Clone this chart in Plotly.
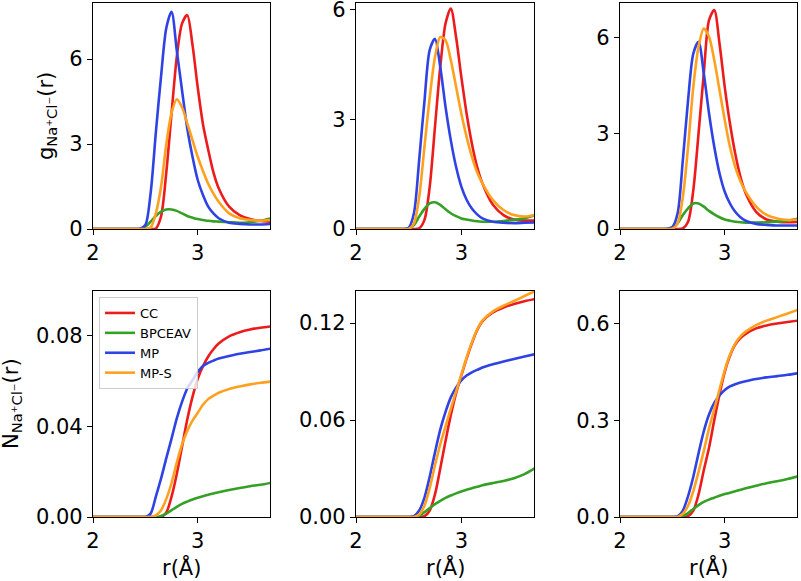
import plotly.graph_objects as go
from plotly.subplots import make_subplots

# ---------------- data ----------------
r = [2.0, 2.4, 2.45, 2.5, 2.55, 2.6, 2.65, 2.7, 2.75, 2.8, 2.85, 2.9, 2.95,
     3.0, 3.05, 3.1, 3.15, 3.2, 3.3, 3.4, 3.5, 3.6, 3.7]

series_names = ["CC", "BPCEAV", "MP", "MP-S"]
series_colors = ["#ec1c1c", "#34a024", "#2f43e4", "#ffa11f"]

# g(r), panel 1
g1_cc = [0, 0, 0, 0, 0, 0.02, 0.45, 2.0, 4.08, 6.08, 7.25, 7.55, 6.5, 5.0, 3.7, 2.8, 2.0, 1.44, 0.79, 0.49, 0.35, 0.28, 0.26]
g1_bp = [0, 0, 0.01, 0.08, 0.26, 0.46, 0.61, 0.69, 0.69, 0.64, 0.55, 0.46, 0.4, 0.35, 0.32, 0.29, 0.27, 0.26, 0.24, 0.22, 0.24, 0.29, 0.38]
g1_mp = [0, 0, 0.01, 0.14, 1.26, 3.4, 5.4, 7.1, 7.67, 6.3, 4.9, 3.55, 2.55, 1.73, 1.2, 0.79, 0.55, 0.38, 0.22, 0.18, 0.16, 0.16, 0.18]
g1_ms = [0, 0, 0, 0, 0.05, 0.55, 1.5, 3.0, 4.1, 4.58, 4.3, 3.73, 3.14, 2.55, 2.05, 1.6, 1.25, 0.96, 0.55, 0.38, 0.32, 0.29, 0.32]

# g(r), panel 2
g2_cc = [0, 0, 0, 0, 0, 0.02, 0.25, 1.16, 2.8, 4.43, 5.62, 6.03, 5.25, 4.16, 3.16, 2.34, 1.7, 1.25, 0.66, 0.38, 0.26, 0.23, 0.23]
g2_bp = [0, 0, 0, 0.02, 0.11, 0.34, 0.55, 0.70, 0.73, 0.66, 0.54, 0.43, 0.35, 0.29, 0.26, 0.23, 0.21, 0.20, 0.20, 0.22, 0.25, 0.29, 0.38]
g2_mp = [0, 0, 0, 0.03, 0.43, 1.9, 3.5, 4.9, 5.2, 4.43, 3.34, 2.43, 1.7, 1.16, 0.8, 0.56, 0.4, 0.29, 0.2, 0.17, 0.16, 0.17, 0.18]
g2_ms = [0, 0, 0, 0, 0.15, 0.88, 2.25, 3.6, 4.7, 5.25, 5.16, 4.62, 3.89, 3.16, 2.52, 1.98, 1.55, 1.25, 0.79, 0.52, 0.38, 0.34, 0.38]

# g(r), panel 3
g3_cc = [0, 0, 0, 0, 0, 0.02, 0.23, 1.22, 3.0, 4.88, 6.55, 6.87, 5.82, 4.46, 3.31, 2.37, 1.64, 1.12, 0.54, 0.3, 0.23, 0.21, 0.22]
g3_bp = [0, 0, 0.01, 0.05, 0.18, 0.44, 0.65, 0.8, 0.8, 0.7, 0.57, 0.46, 0.37, 0.3, 0.26, 0.23, 0.21, 0.2, 0.2, 0.21, 0.23, 0.26, 0.33]
g3_mp = [0, 0, 0.01, 0.06, 0.49, 2.16, 4.04, 5.5, 5.87, 4.88, 3.63, 2.58, 1.75, 1.17, 0.8, 0.54, 0.37, 0.26, 0.16, 0.13, 0.11, 0.11, 0.11]
g3_ms = [0, 0, 0, 0.01, 0.18, 1.0, 2.58, 4.46, 5.72, 6.29, 6.03, 5.3, 4.36, 3.42, 2.58, 1.95, 1.5, 1.17, 0.7, 0.44, 0.33, 0.28, 0.3]

# N(r), panel 4
n1_cc = [0, 0, 0, 0, 0, 0, 0, 0.002, 0.009, 0.019, 0.031, 0.043, 0.053, 0.061, 0.0665, 0.0708, 0.074, 0.0765, 0.0797, 0.0815, 0.0827, 0.0835, 0.0841]
n1_bp = [0, 0, 0, 0, 0, 0, 0.0005, 0.0015, 0.003, 0.0045, 0.0058, 0.0068, 0.0077, 0.0085, 0.0092, 0.0098, 0.0104, 0.0109, 0.0119, 0.0128, 0.0136, 0.0142, 0.0151]
n1_mp = [0, 0, 0, 0, 0.0015, 0.009, 0.017, 0.026, 0.0346, 0.0435, 0.0508, 0.0567, 0.0603, 0.064, 0.0666, 0.068, 0.069, 0.0699, 0.071, 0.072, 0.0728, 0.0735, 0.0743]
n1_ms = [0, 0, 0, 0, 0, 0.0007, 0.003, 0.008, 0.015, 0.024, 0.032, 0.038, 0.0425, 0.046, 0.0495, 0.052, 0.0535, 0.0548, 0.0565, 0.0576, 0.0585, 0.0592, 0.0598]

# N(r), panel 5
n2_cc = [0, 0, 0, 0, 0, 0, 0.0005, 0.004, 0.014, 0.03, 0.047, 0.063, 0.0765, 0.0875, 0.098, 0.1075, 0.1155, 0.121, 0.1265, 0.1295, 0.1318, 0.1335, 0.1348]
n2_bp = [0, 0, 0, 0, 0, 0.0008, 0.003, 0.0055, 0.008, 0.010, 0.0118, 0.0133, 0.0146, 0.0158, 0.0168, 0.0178, 0.0187, 0.0196, 0.021, 0.0223, 0.024, 0.0265, 0.0302]
n2_mp = [0, 0, 0, 0, 0.0005, 0.004, 0.012, 0.025, 0.040, 0.054, 0.065, 0.074, 0.080, 0.0845, 0.0875, 0.0895, 0.091, 0.0925, 0.0945, 0.0962, 0.0978, 0.0993, 0.1008]
n2_ms = [0, 0, 0, 0, 0, 0.0015, 0.007, 0.018, 0.032, 0.045, 0.056, 0.067, 0.0775, 0.088, 0.0985, 0.108, 0.116, 0.1215, 0.1272, 0.1307, 0.1336, 0.1367, 0.1398]

# N(r), panel 6
n3_cc = [0, 0, 0, 0, 0, 0, 0.003, 0.02, 0.07, 0.145, 0.215, 0.30, 0.38, 0.45, 0.50, 0.535, 0.555, 0.568, 0.585, 0.594, 0.600, 0.605, 0.609]
n3_bp = [0, 0, 0, 0, 0, 0.003, 0.012, 0.025, 0.037, 0.047, 0.054, 0.06, 0.066, 0.071, 0.0755, 0.08, 0.0845, 0.089, 0.097, 0.105, 0.111, 0.118, 0.126]
n3_mp = [0, 0, 0, 0, 0.002, 0.02, 0.065, 0.125, 0.198, 0.266, 0.318, 0.354, 0.377, 0.394, 0.405, 0.412, 0.417, 0.421, 0.428, 0.433, 0.437, 0.441, 0.446]
n3_ms = [0, 0, 0, 0, 0, 0.01, 0.035, 0.08, 0.14, 0.205, 0.275, 0.335, 0.395, 0.455, 0.503, 0.538, 0.56, 0.575, 0.595, 0.609, 0.62, 0.631, 0.643]

x_range = [2.0, 3.69]
x_ticks = [2, 3]
top_ranges = [[0, 7.98], [0, 6.18], [0, 7.09]]
top_ticks = [[0, 3, 6], [0, 3, 6], [0, 3, 6]]
bot_ranges = [[0, 0.0997], [0, 0.1398], [0, 0.701]]
bot_ticks = [[0, 0.04, 0.08], [0, 0.06, 0.12], [0, 0.3, 0.6]]
bot_formats = [".2f", ".2f", ".1f"]

g_label = "g<sub>Na⁺Cl⁻</sub>(r)"
n_label = "N<sub>Na⁺Cl⁻</sub>(r)"
x_label = "r(Å)"

panels = [
    [g1_cc, g1_bp, g1_mp, g1_ms],
    [g2_cc, g2_bp, g2_mp, g2_ms],
    [g3_cc, g3_bp, g3_mp, g3_ms],
    [n1_cc, n1_bp, n1_mp, n1_ms],
    [n2_cc, n2_bp, n2_mp, n2_ms],
    [n3_cc, n3_bp, n3_mp, n3_ms],
]

# ---------------- figure ----------------
W, H = 801, 581
FONT = "DejaVu Sans"
fig = make_subplots(rows=2, cols=3)

for p, data in enumerate(panels):
    row = p // 3 + 1
    col = p % 3 + 1
    for k, ys in enumerate(data):
        fig.add_trace(
            go.Scatter(
                x=r, y=ys, mode="lines",
                name=series_names[k],
                legendgroup=series_names[k],
                showlegend=(p == 3),
                line=dict(color=series_colors[k], width=2.6, shape="spline", smoothing=0.8),
            ),
            row=row, col=col,
        )

col_px = [(93, 270), (356, 534), (620, 797)]
row_px = [(3, 229), (291, 517)]

for p in range(6):
    row = p // 3
    col = p % 3
    idx = p + 1
    xd = [col_px[col][0] / W, col_px[col][1] / W]
    yd = [1 - row_px[row][1] / H, 1 - row_px[row][0] / H]
    xa = "xaxis" if idx == 1 else f"xaxis{idx}"
    ya = "yaxis" if idx == 1 else f"yaxis{idx}"
    common = dict(showline=True, mirror=True, linecolor="black", linewidth=1.3,
                  ticks="outside", ticklen=5, tickwidth=1.2, tickcolor="black",
                  showgrid=False, zeroline=False, automargin=False,
                  ticklabeloverflow="allow",
                  tickfont=dict(family=FONT, size=21, color="black"))
    fig.layout[xa].update(domain=xd, range=x_range, tickvals=x_ticks,
                          ticktext=[str(t) for t in x_ticks], **common)
    if row == 0:
        fig.layout[ya].update(domain=yd, range=top_ranges[col], tickvals=top_ticks[col],
                              ticktext=[str(t) for t in top_ticks[col]], **common)
    else:
        fmt = bot_formats[col]
        fig.layout[ya].update(domain=yd, range=bot_ranges[col], tickvals=bot_ticks[col],
                              ticktext=[format(t, fmt) for t in bot_ticks[col]], **common)

annotations = [
    dict(text=g_label, x=47 / W, y=1 - 116 / H, xref="paper", yref="paper",
         textangle=-90, showarrow=False, xanchor="center", yanchor="middle",
         font=dict(family=FONT, size=21, color="black")),
    dict(text=n_label, x=12 / W, y=1 - 404 / H, xref="paper", yref="paper",
         textangle=-90, showarrow=False, xanchor="center", yanchor="middle",
         font=dict(family=FONT, size=21, color="black")),
]
for c in range(3):
    cx = (col_px[c][0] + col_px[c][1]) / 2 / W
    annotations.append(dict(text=x_label, x=cx, y=1 - 567 / H, xref="paper", yref="paper",
                            showarrow=False, xanchor="center", yanchor="middle",
                            font=dict(family=FONT, size=21, color="black")))

fig.update_layout(
    width=W, height=H,
    margin=dict(l=0, r=0, t=0, b=0, autoexpand=False),
    paper_bgcolor="white", plot_bgcolor="white",
    font=dict(family=FONT, color="black"),
    annotations=annotations,
    legend=dict(x=99 / W, y=1 - 297 / H, xanchor="left", yanchor="top",
                bgcolor="rgba(255,255,255,0.8)", bordercolor="#cccccc", borderwidth=1,
                font=dict(family=FONT, size=13, color="black"),
                tracegroupgap=0, itemwidth=30),
    showlegend=True,
)

fig.write_html("out.html", config={"displayModeBar": False},
               post_script="document.body.style.margin='0px';document.body.style.padding='0px';")
